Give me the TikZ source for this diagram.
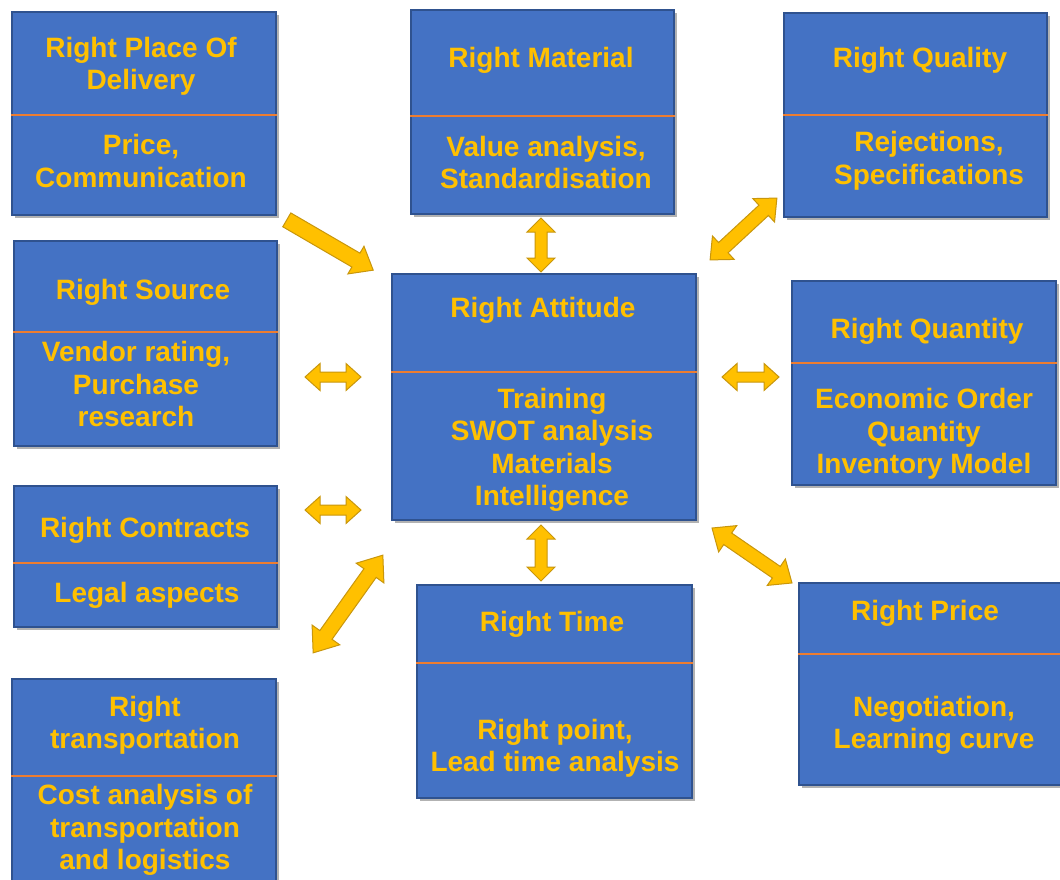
\documentclass[tikz,border=0pt]{standalone}
\usepackage{fontspec}
\setmainfont{Liberation Sans}
\usetikzlibrary{shadows}
\definecolor{boxblue}{HTML}{4472C4}
\definecolor{boxedge}{HTML}{2F528F}
\definecolor{gold}{HTML}{FFC000}
\definecolor{goldedge}{HTML}{C8960C}
\definecolor{divider}{HTML}{ED7D31}
\begin{document}
\begin{tikzpicture}[x=1pt,y=-1pt,
  box/.style={draw=boxedge, line width=1.5pt, fill=boxblue, inner sep=0pt,
    drop shadow={shadow xshift=3pt, shadow yshift=-3pt, opacity=0.3, fill=black}},
  lbl/.style={text=gold, font=\fontsize{28}{32.5}\selectfont\bfseries, align=center, inner sep=0pt},
  divline/.style={fill=divider},
  barrow/.style={fill=gold, draw=goldedge, line width=1pt, line join=miter},
  pics/dbl/.style n args={4}{code={
    \draw[barrow] (-#1/2,0) -- (-#1/2+#4,-#3) -- (-#1/2+#4,-#2) -- (#1/2-#4,-#2)
      -- (#1/2-#4,-#3) -- (#1/2,0) -- (#1/2-#4,#3) -- (#1/2-#4,#2)
      -- (-#1/2+#4,#2) -- (-#1/2+#4,#3) -- cycle;}},
  pics/sgl/.style n args={4}{code={
    \draw[barrow] (-#1/2,-#2) -- (#1/2-#4,-#2) -- (#1/2-#4,-#3) -- (#1/2,0)
      -- (#1/2-#4,#3) -- (#1/2-#4,#2) -- (-#1/2,#2) -- cycle;}},
]
\clip (0,0) rectangle (1060,880);
\fill[white] (0,0) rectangle (1060,880);

% boxes
\node[box, minimum width=264, minimum height=203] (b1) at (144,113.5) {};
\node[box, minimum width=263, minimum height=204] (b2) at (542.5,112) {};
\node[box, minimum width=263, minimum height=204] (b3) at (915.5,115) {};
\node[box, minimum width=263, minimum height=205] (b4) at (145.5,343.5) {};
\node[box, minimum width=304, minimum height=246] (b5) at (544,397) {};
\node[box, minimum width=264, minimum height=204] (b6) at (924,383) {};
\node[box, minimum width=263, minimum height=141] (b7) at (145.5,556.5) {};
\node[box, minimum width=275, minimum height=213] (b8) at (554.5,691.5) {};
\node[box, minimum width=263, minimum height=202] (b9) at (930.5,684) {};
\node[box, minimum width=264, minimum height=211] (b10) at (144,784.5) {};

% dividers
\fill[divline] (b1.west |- 0,114) rectangle (b1.east |- 0,115.6);
\fill[divline] (b2.west |- 0,115) rectangle (b2.east |- 0,116.6);
\fill[divline] (b3.west |- 0,114) rectangle (b3.east |- 0,115.6);
\fill[divline] (b4.west |- 0,331) rectangle (b4.east |- 0,332.6);
\fill[divline] (b5.west |- 0,371) rectangle (b5.east |- 0,372.6);
\fill[divline] (b6.west |- 0,362) rectangle (b6.east |- 0,363.6);
\fill[divline] (b7.west |- 0,562) rectangle (b7.east |- 0,563.6);
\fill[divline] (b8.west |- 0,662) rectangle (b8.east |- 0,663.6);
\fill[divline] (b9.west |- 0,653) rectangle (b9.east |- 0,654.6);
\fill[divline] (b10.west |- 0,775) rectangle (b10.east |- 0,776.6);

% labels
\node[lbl] (t1) at (141,66.5) {Right Place Of\\Delivery};
\node[lbl] (d1) at (141,161) {Price,\\Communication};
\node[lbl] (t2) at (541,60) {Right Material};
\node[lbl] (d2) at (546,162.5) {Value analysis,\\Standardisation};
\node[lbl] (t3) at (920,60) {Right Quality};
\node[lbl] (d3) at (929,161) {Rejections,\\Specifications};
\node[lbl] (t4) at (143,292) {Right Source};
\node[lbl] (d4) at (136,384) {Vendor rating,\\Purchase\\research};
\node[lbl] (t5) at (543,310) {Right Attitude};
\node[lbl] (d5) at (552,450) {Training\\SWOT analysis\\Materials\\Intelligence};
\node[lbl] (t6) at (927,331) {Right Quantity};
\node[lbl] (d6) at (924,434) {Economic Order\\Quantity\\Inventory Model};
\node[lbl] (t7) at (145,530) {Right Contracts};
\node[lbl] (d7) at (147,595) {Legal aspects};
\node[lbl] (t8) at (552,624) {Right Time};
\node[lbl] (d8) at (555,748.5) {Right point,\\Lead time analysis};
\node[lbl] (t9) at (925,613) {Right Price};
\node[lbl] (d9) at (934,725.5) {Negotiation,\\Learning curve};
\node[lbl] (t10) at (145,725.5) {Right\\transportation};
\node[lbl] (d10) at (145,830) {Cost analysis of\\transportation\\and logistics};

% block arrows
\pic[rotate=-30.2] at (330,245) {sgl={100}{8}{16}{20}};
\pic[rotate=90] at (541,245) {dbl={54}{6}{14}{14}};
\pic[rotate=42.8] at (743.5,229) {dbl={91}{7}{16}{18}};
\pic at (333,377) {dbl={56}{5}{13.5}{15}};
\pic at (750.5,377) {dbl={57}{5}{13.5}{15}};
\pic at (333,510) {dbl={56}{5}{13.5}{15}};
\pic[rotate=54.5] at (348,604) {dbl={120}{7.5}{17}{22}};
\pic[rotate=90] at (541,553) {dbl={56}{6}{14}{14}};
\pic[rotate=-34.5] at (752,555.5) {dbl={97}{7}{16}{19}};
\end{tikzpicture}
\end{document}
